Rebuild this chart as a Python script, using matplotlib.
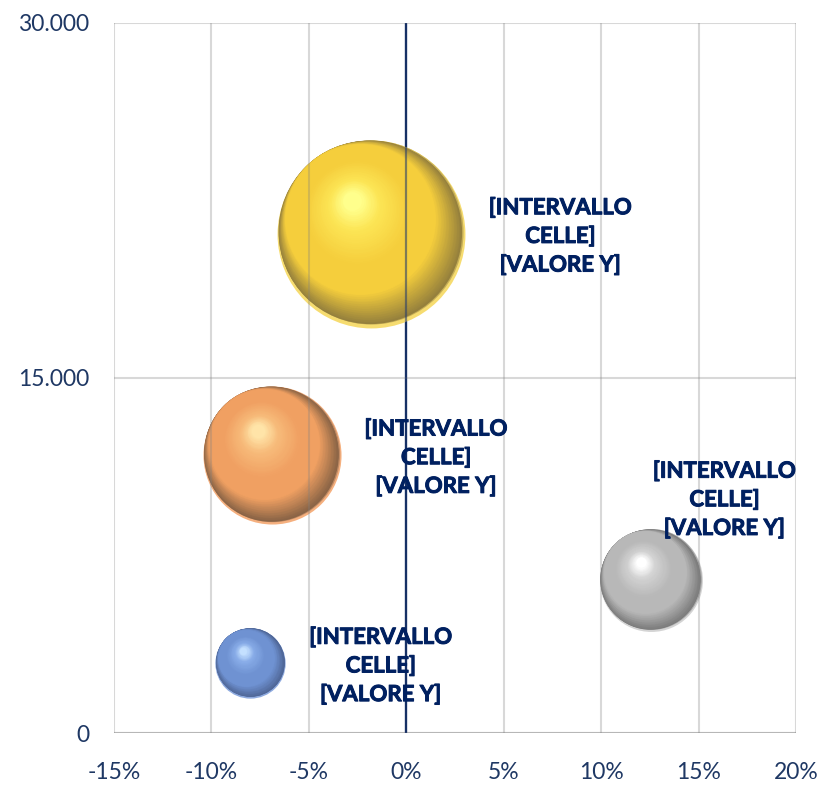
import numpy as np
import matplotlib
matplotlib.use("Agg")
import matplotlib.pyplot as plt
from matplotlib import transforms
from matplotlib import patheffects as pe
from matplotlib.colors import to_rgb
from matplotlib.ticker import FuncFormatter, FixedLocator

# ---- data ----
series = ["Serie 1", "Serie 2", "Serie 3", "Serie 4"]
x_pct = [-8.0, -6.9, 12.55, -1.8]          # percent
y_val = [2950, 11750, 6450, 21100]
bubble_size = [14, 54, 30, 100]
labels = ["[INTERVALLO\nCELLE]\n[VALORE Y]"] * 4
x_ticks = [-15, -10, -5, 0, 5, 10, 15, 20]
y_ticks = [0, 15000, 30000]

# ---- style ----
NAVY = "#002060"
TICK = "#1F3864"
# bottom_light, dark, main, light, highlight
palettes = [
    ["#8eaadf", "#4f6696", "#6f92d2", "#88ace8", "#c4e0ff"],   # blue
    ["#f5b07f", "#8a6446", "#f0a062", "#f7bb7a", "#ffe4a8"],   # orange
    ["#d4d4d4", "#7a7a7a", "#b8b8b8", "#d2d2d2", "#ffffff"],   # gray
    ["#f6dc70", "#95803c", "#f5ce3c", "#fce555", "#ffff8c"],   # yellow
]

plt.rcParams["font.family"] = ["Lato", "DejaVu Sans"]

fig = plt.figure(figsize=(8.21, 7.86), dpi=100)
ax = fig.add_axes([114 / 821, 1 - 733 / 786, (796 - 114) / 821, (733 - 23) / 786])
ax.set_xlim(-15, 20)
ax.set_ylim(0, 30000)
for s in ax.spines.values():
    s.set_visible(False)

ax.xaxis.set_major_locator(FixedLocator(x_ticks))
ax.yaxis.set_major_locator(FixedLocator(y_ticks))
ax.xaxis.set_major_formatter(FuncFormatter(lambda v, p: f"{v:.0f}%"))
ax.yaxis.set_major_formatter(FuncFormatter(lambda v, p: f"{v:,.0f}".replace(",", ".")))
ax.tick_params(axis="both", length=0, labelsize=16.5, labelcolor=TICK)
ax.tick_params(axis="x", pad=21)
ax.tick_params(axis="y", pad=18)

ax.set_axisbelow(False)
ax.grid(True, color="#808080", alpha=0.3, lw=1.5, zorder=2.5)
ax.axhline(0, color="#d0d0d0", lw=1.5, zorder=0.4)
ax.axvline(0, color=NAVY, lw=1.6, zorder=0.5)
ax.axvline(0, color=NAVY, lw=1.6, alpha=0.4, zorder=3)

SCALE = 183.0  # pt^2 per size unit
u = np.array([-0.6, 0.8])
hl = np.array([-0.2, 0.35])
AMAX = 0.2


def mix(c1, c2, t):
    a, b = np.array(to_rgb(c1)), np.array(to_rgb(c2))
    return tuple(a + (b - a) * t)


def disc(xv, yv, r_pt, off, col):
    trans = transforms.offset_copy(ax.transData, fig=fig,
                                   x=off[0] * r_pt, y=off[1] * r_pt, units="points")
    ax.scatter([xv], [yv], s=(2 * r_pt * off[2]) ** 2, color=[col],
               linewidths=0, transform=trans, zorder=1)


for i in range(len(series)):
    bl, dk, mn, lt, hi = palettes[i]
    r_pt = np.sqrt(bubble_size[i] * SCALE) / 2
    xv, yv = x_pct[i], y_val[i]
    # light bottom rim
    disc(xv, yv, r_pt, (0, 0, 1.0), bl)
    disc(xv, yv, r_pt, (0.0, 0.02, 0.98), mix(bl, dk, 0.5))
    # dark -> main crescent (tangent toward upper-left)
    for a in np.linspace(0.025, AMAX, 28):
        t = (a - 0.025) / (AMAX - 0.025)
        disc(xv, yv, r_pt, (u[0] * a, u[1] * a, 1 - a), mix(dk, mn, t))
    # main -> highlight
    c0 = u * AMAX
    for t in np.linspace(0, 1, 40):
        c = c0 + (hl - c0) * t
        rad = (1 - AMAX) - (0.9 - AMAX) * t
        if t < 0.35:
            col = mix(mn, mn, 0)
        elif t < 0.75:
            col = mix(mn, lt, (t - 0.35) / 0.4)
        else:
            col = mix(lt, hi, (t - 0.75) / 0.25)
        disc(xv, yv, r_pt, (c[0], c[1], rad), col)

# ---- labels ----
for i in range(len(series)):
    r_pt = np.sqrt(bubble_size[i] * SCALE) / 2
    if i == 2:
        off, ha = (53, 58), "center"
    else:
        off, ha = (r_pt + 17, -2), "left"
    ax.annotate(labels[i], (x_pct[i], y_val[i]), xytext=off, textcoords="offset points",
                ha=ha, va="center", multialignment="center", fontsize=16,
                fontweight="bold", color=NAVY, linespacing=1.45, zorder=5,
                path_effects=[pe.withStroke(linewidth=0.7, foreground=NAVY)])

fig.savefig("out.png", dpi=100)
